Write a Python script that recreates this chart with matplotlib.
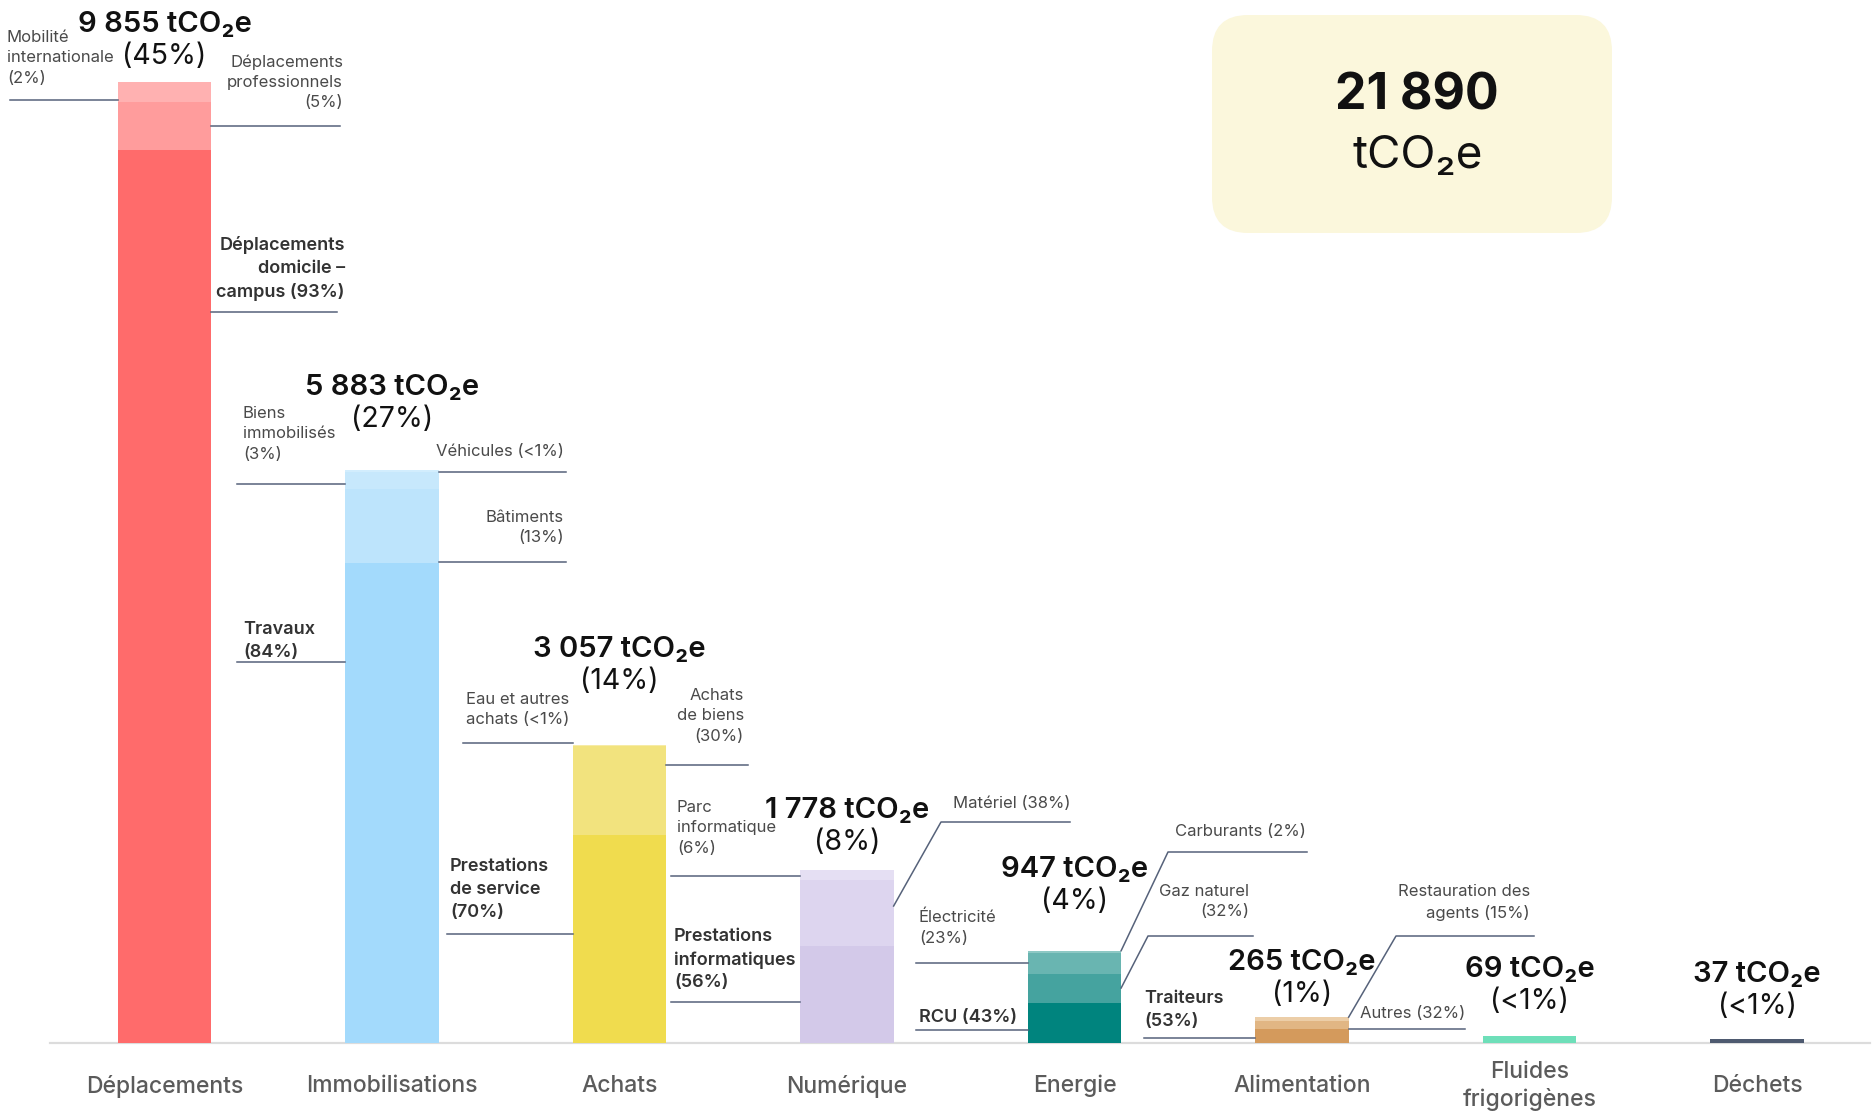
import matplotlib.pyplot as plt
from matplotlib.lines import Line2D
from matplotlib.patches import FancyBboxPatch
from matplotlib.transforms import Affine2D, blended_transform_factory

plt.rcParams['font.family'] = ['Inter', 'DejaVu Sans']

W, H = 1876, 1118

# ---- données ----
categories = ["Déplacements", "Immobilisations", "Achats", "Numérique",
              "Energie", "Alimentation", "Fluides\nfrigorigènes", "Déchets"]
totals = [9855, 5883, 3057, 1778, 947, 265, 69, 37]
grand_total = 21890

# sous-postes, du bas de la barre vers le haut (parts en %)
dep_parts = [93, 5, 2]
dep_names = ["Déplacements\ndomicile –\ncampus ({})", "Déplacements\nprofessionnels\n({})",
             "Mobilité\ninternationale\n({})"]
immo_parts = [84, 13, 3, 0.4]
immo_names = ["Travaux\n({})", "Bâtiments\n({})", "Biens\nimmobilisés\n({})", "Véhicules ({})"]
achats_parts = [70, 30, 0.4]
achats_names = ["Prestations\nde service\n({})", "Achats\nde biens\n({})", "Eau et autres\nachats ({})"]
num_parts = [56, 38, 6]
num_names = ["Prestations\ninformatiques\n({})", "Matériel ({})", "Parc\ninformatique\n({})"]
energie_parts = [43, 32, 23, 2]
energie_names = ["RCU ({})", "Gaz naturel\n({})", "Électricité\n({})", "Carburants ({})"]
alim_parts = [53, 32, 15]
alim_names = ["Traiteurs\n({})", "Autres ({})", "Restauration des\nagents ({})"]
fluides_parts = [100]
dechets_parts = [100]

parts = [dep_parts, immo_parts, achats_parts, num_parts, energie_parts,
         alim_parts, fluides_parts, dechets_parts]
names = [dep_names, immo_names, achats_names, num_names, energie_names, alim_names, [], []]

# ---- styles ----
colors = [
    ["#FF6B6B", "#FF9C9C", "#FFB1B1"],
    ["#A3DAFC", "#BDE4FC", "#C7E8FC", "#D2EDFD"],
    ["#F0DC4E", "#F2E37E", "#F6EBA6"],
    ["#D3C9E9", "#DDD5EF", "#E5DFF3"],
    ["#00847E", "#45A39F", "#69B5B1", "#8DC8C4"],
    ["#D49A5C", "#E1B684", "#ECCEA8"],
    ["#6EDFB9"],
    ["#4E5A70"],
]
LINE_COL = "#56627A"
BAR_W = 0.41

fig = plt.figure(figsize=(W / 100, H / 100), dpi=100)
PX = Affine2D().scale(1 / W, -1 / H).translate(0, 1) + fig.transFigure

ax = fig.add_axes([0, (H - 1043) / H, 1, 1043 / H])
ax.set_xlim(-164.5 / 227.5, (W - 164.5) / 227.5)
ax.set_ylim(0, 10700)
ax.axis('off')

ax.plot([-0.505, 7.495], [0, 0], color="#DCDCDC", lw=1.6, zorder=0, clip_on=False)

for i, (p_i, cols) in enumerate(zip(parts, colors)):
    s = sum(p_i)
    bottom = 0
    for p, c in zip(p_i, cols):
        h = totals[i] * p / s
        ax.bar(i, h, bottom=bottom, width=BAR_W, color=c, linewidth=0, zorder=2)
        bottom += h


def fmt(v):
    return f"{v:,}".replace(",", " ")


def pct(v):
    return "<1%" if v < 1 else f"{round(v)}%"


# titres au-dessus des barres (ligne de base en pixels)
bx = blended_transform_factory(ax.transData, PX)
title_y = [32, 395, 657, 818, 877, 970, 977, 982]
for i in range(len(categories)):
    ax.text(i, title_y[i], f"{fmt(totals[i])} tCO₂e", transform=bx, ha='center',
            va='baseline', fontsize=21, fontweight='semibold', color='#111111')
    ax.text(i, title_y[i] + 32, f"({pct(100 * totals[i] / grand_total)})", transform=bx,
            ha='center', va='baseline', fontsize=20.5, color='#111111')
    ax.text(i, 1086, categories[i], transform=bx, ha='center', va='center',
            fontsize=16.5, fontweight='medium', color='#5B5B5B', linespacing=1.3)


def pt(cat, x, y):
    if x in ("L", "R"):
        xd = cat + (-BAR_W / 2 if x == "L" else BAR_W / 2)
        x = ax.transData.transform((xd, 0))[0]
    if y == "top":
        y = H - ax.transData.transform((0, totals[cat]))[1]
    return x, y


# (catégorie, sous-poste, x texte, y texte, ha, va, trait)
annotations = [
    (0, 2, 7, 30, 'left', 'top', [(10, 100), ("L", 100)]),
    (0, 1, 343, 54, 'right', 'top', [("R", 126), (340, 126)]),
    (0, 0, 345, 236, 'right', 'top', [("R", 312), (337, 312)]),
    (1, 2, 243, 406, 'left', 'top', [(237, 484), ("L", 484)]),
    (1, 3, 564, 452, 'right', 'center', [("R", 472), (566, 472)]),
    (1, 1, 564, 510, 'right', 'top', [("R", 562), (566, 562)]),
    (1, 0, 243, 621, 'left', 'top', [(237, 662), ("L", 662)]),
    (2, 2, 466, 692, 'left', 'top', [(463, 743), ("L", 743)]),
    (2, 1, 744, 688, 'right', 'top', [("R", 765), (748, 765)]),
    (2, 0, 450, 858, 'left', 'top', [(447, 934), ("L", 934)]),
    (3, 2, 677, 800, 'left', 'top', [(671, 876), ("L", 876)]),
    (3, 0, 674, 928, 'left', 'top', [(671, 1002), ("L", 1002)]),
    (3, 1, 953, 803, 'left', 'center', [("R", 906), (941, 822), (1070, 822)]),
    (4, 2, 919, 910, 'left', 'top', [(916, 963), ("L", 963)]),
    (4, 0, 919, 1017, 'left', 'center', [(916, 1030), ("L", 1030)]),
    (4, 3, 1306, 832, 'right', 'center', [("R", "top"), (1168, 852), (1307, 852)]),
    (4, 1, 1249, 884, 'right', 'top', [("R", 988), (1148, 936), (1253, 936)]),
    (5, 0, 1144, 990, 'left', 'top', [(1144, 1038), ("L", 1038)]),
    (5, 2, 1530, 884, 'right', 'top', [("R", "top"), (1396, 936), (1534, 936)]),
    (5, 1, 1465, 1013, 'right', 'center', [("R", 1029), (1465, 1029)]),
]

for cat, seg, tx, ty, ha, va, line in annotations:
    label = names[cat][seg].format(pct(parts[cat][seg]))
    bold = seg == 0
    fig.text(tx, ty, label, transform=PX, ha=ha, va=va, multialignment=ha,
             fontsize=13 if bold else 12, fontweight='semibold' if bold else 'normal',
             color='#333333' if bold else '#4A4A4A', linespacing=1.45)
    pts = [pt(cat, x, y) for x, y in line]
    fig.add_artist(Line2D([p[0] for p in pts], [p[1] for p in pts], transform=PX,
                          color=LINE_COL, lw=1.1))

# encadré total
box = FancyBboxPatch((1212, 15), 400, 218, boxstyle="round,pad=0,rounding_size=36",
                     transform=PX, facecolor="#FBF7DC", edgecolor='none')
fig.add_artist(box)
fig.text(1417, 110, fmt(grand_total), transform=PX, ha='center', va='baseline',
         fontsize=36, fontweight='bold', color='#111111')
fig.text(1418, 168, "tCO₂e", transform=PX, ha='center', va='baseline',
         fontsize=33, fontweight='normal', color='#111111')

fig.savefig("out.png", dpi=100)
